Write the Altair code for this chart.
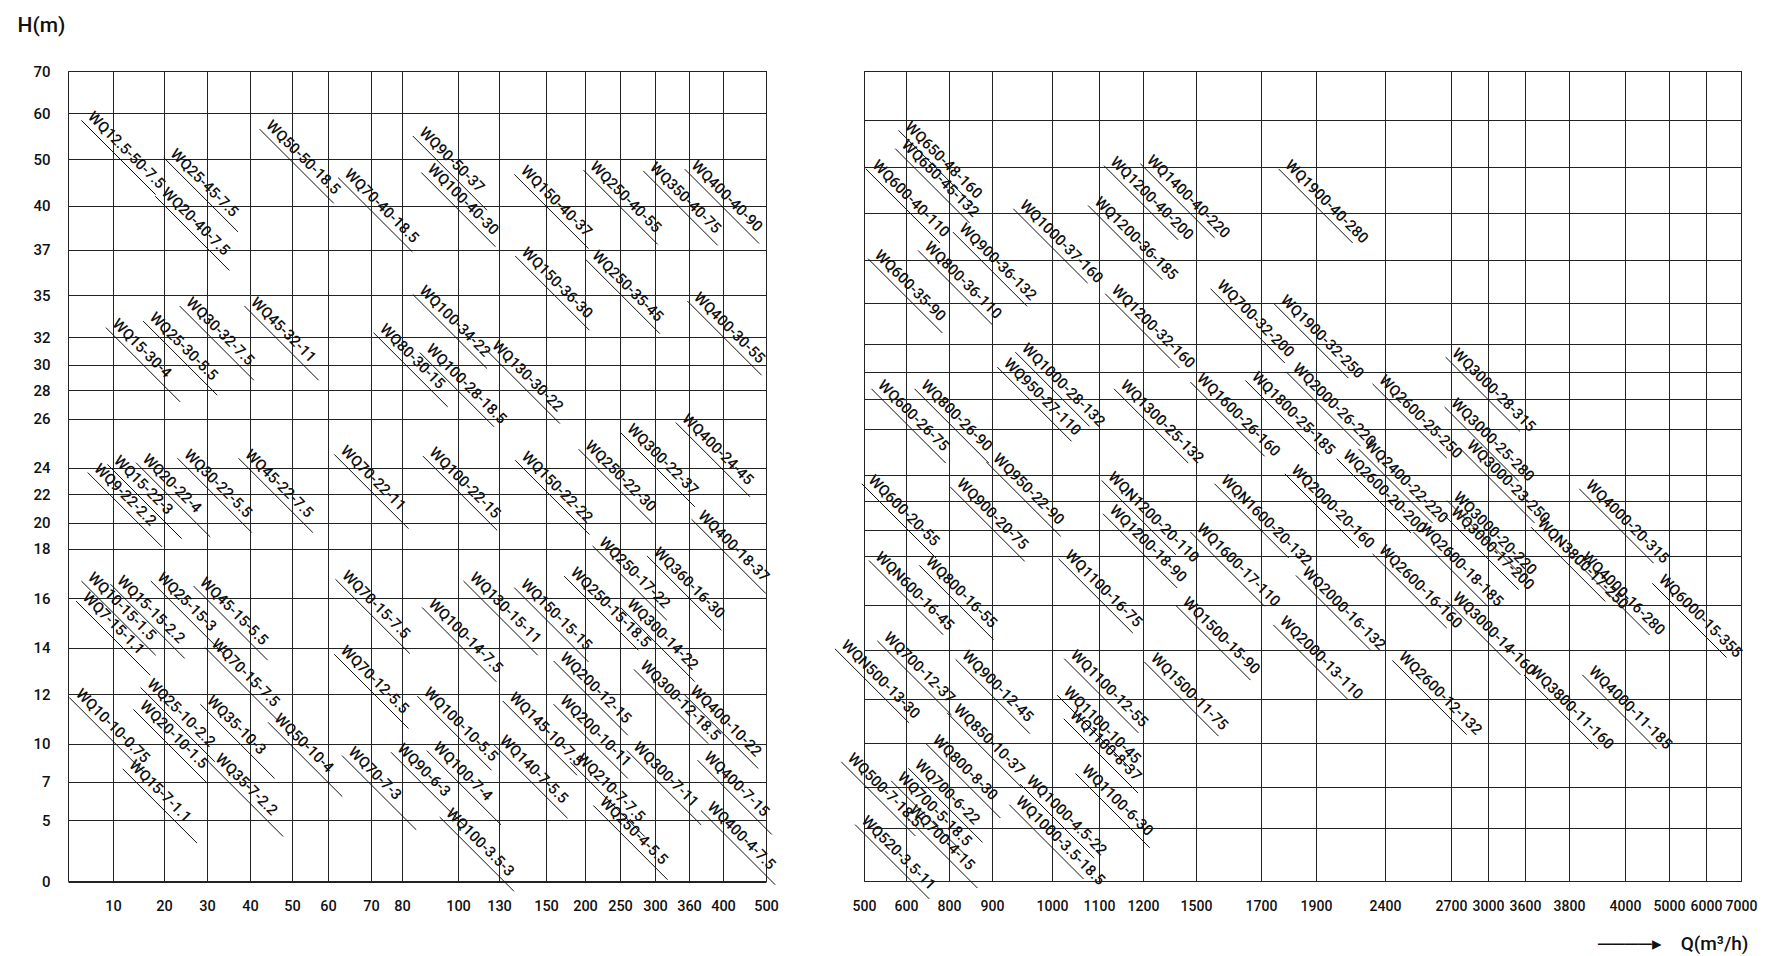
import altair as alt
import pandas as pd

# ---------------- axis tick values ----------------
H_TICKS = [0, 5, 7, 10, 12, 14, 16, 18, 20, 22, 24, 26, 28, 30, 32, 35, 37, 40, 50, 60, 70]
LEFT_Q_TICKS = [10, 20, 30, 40, 50, 60, 70, 80, 100, 130, 150, 200, 250, 300, 360, 400, 500]
RIGHT_Q_TICKS = [500, 600, 800, 900, 1000, 1100, 1200, 1500, 1700, 1900, 2400,
                 2700, 3000, 3600, 3800, 4000, 5000, 6000, 7000]

# ---------------- pump labels, left panel ----------------
left_model = [
    "WQ12.5-50-7.5", "WQ25-45-7.5", "WQ20-40-7.5", "WQ50-50-18.5", "WQ70-40-18.5",
    "WQ90-50-37", "WQ100-40-30", "WQ150-40-37", "WQ250-40-55", "WQ350-40-75",
    "WQ400-40-90", "WQ150-36-30", "WQ250-35-45", "WQ400-30-55", "WQ15-30-4",
    "WQ25-30-5.5", "WQ30-32-7.5", "WQ45-32-11", "WQ100-34-22", "WQ80-30-15",
    "WQ100-28-18.5", "WQ130-30-22", "WQ9-22-2.2", "WQ15-22-3", "WQ20-22-4",
    "WQ30-22-5.5", "WQ45-22-7.5", "WQ70-22-11", "WQ100-22-15", "WQ150-22-22",
    "WQ250-22-30", "WQ300-22-37", "WQ400-24-45", "WQ400-18-37", "WQ250-17-22",
    "WQ360-16-30", "WQ10-15-1.5", "WQ7-15-1.1", "WQ15-15-2.2", "WQ25-15-3",
    "WQ45-15-5.5", "WQ70-15-7.5", "WQ70-15-7.5", "WQ100-14-7.5", "WQ130-15-11",
    "WQ150-15-15", "WQ250-15-18.5", "WQ300-14-22", "WQ200-12-15", "WQ70-12-5.5",
    "WQ300-12-18.5", "WQ400-10-22", "WQ10-10-0.75", "WQ15-7-1.1", "WQ25-10-2.2",
    "WQ20-10-1.5", "WQ35-10-3", "WQ35-7-2.2", "WQ50-10-4", "WQ70-7-3",
    "WQ90-6-3", "WQ100-7-4", "WQ100-10-5.5", "WQ100-3.5-3", "WQ140-7-5.5",
    "WQ145-10-7.5", "WQ200-10-11", "WQ210-7-7.5", "WQ250-4-5.5", "WQ300-7-11",
    "WQ400-7-15", "WQ400-4-7.5",
]
left_q = [
    5.8, 22.9, 20.9, 45.3, 65.3,
    88.4, 91.4, 141.9, 216, 302,
    370, 142.3, 219, 373, 11.1,
    18.4, 26.6, 41.7, 88.4, 74.9,
    90.9, 129.5, 7.2, 11.4, 17.0,
    26.1, 40.3, 64.4, 92, 142.3,
    209, 269, 359, 378, 229,
    308.5, 5.8, 4.6, 12.0, 19.9,
    29.8, 32.5, 64.7, 91.7, 113.3,
    141.9, 189.5, 269, 176, 64.4,
    288, 369, 3.1, 14.4, 17.9,
    16.5, 31.4, 33.4, 47.3, 66.2,
    80.6, 93.4, 90, 98, 133,
    137, 176, 197.6, 230, 278,
    385, 389,
]
left_h = [
    59.0, 50.9, 42.6, 57.1, 46.6,
    55.6, 47.7, 47.3, 48.2, 48.0,
    48.4, 36.85, 36.7, 34.77, 32.87,
    33.34, 34.41, 34.41, 35.15, 32.51,
    31.07, 31.31, 23.83, 24.24, 24.31,
    24.49, 24.49, 24.65, 24.58, 24.41,
    24.86, 25.54, 25.95, 20.42, 18.41,
    17.81, 16.8, 15.99, 16.67, 16.8,
    16.6, 14.11, 16.87, 15.73, 16.8,
    16.53, 17.0, 15.73, 13.54, 13.83,
    13.18, 12.11, 11.97, 8.22, 12.4,
    11.49, 11.7, 8.74, 10.97, 9.27,
    9.53, 9.66, 12.03, 5.3, 10.09,
    11.83, 11.7, 8.74, 5.9, 9.66,
    8.9, 5.64,
]

# ---------------- pump labels, right panel ----------------
right_model = [
    "WQ650-48-160", "WQ650-45-132", "WQ600-40-110", "WQ600-35-90", "WQ800-36-110",
    "WQ900-36-132", "WQ1000-37-160", "WQ1200-40-200", "WQ1400-40-220", "WQ1200-36-185",
    "WQ1900-40-280", "WQ1200-32-160", "WQ700-32-200", "WQ1900-32-250", "WQ3000-28-315",
    "WQ1000-28-132", "WQ950-27-110", "WQ600-26-75", "WQ800-26-90", "WQ950-22-90",
    "WQ1300-25-132", "WQ1600-26-160", "WQ1800-25-185", "WQ2000-26-220", "WQ2400-22-220",
    "WQ2600-25-250", "WQ3000-25-280", "WQ3000-23-250", "WQ600-20-55", "WQ900-20-75",
    "WQN1200-20-110", "WQ1200-18-90", "WQN1600-20-132", "WQ1600-17-110", "WQ2000-20-160",
    "WQ2600-20-200", "WQ2600-18-185", "WQ3000-20-220", "WQ3000-17-200", "WQN3800-17-250",
    "WQ4000-20-315", "WQ4000-16-280", "WQ6000-15-355", "WQ4000-11-185", "WQ3800-11-160",
    "WQN600-16-45", "WQ800-16-55", "WQ1100-16-75", "WQ1500-15-90", "WQ2000-16-132",
    "WQ2000-13-110", "WQ2600-16-160", "WQ2600-12-132", "WQ3000-14-160", "WQN500-13-30",
    "WQ700-12-37", "WQ900-12-45", "WQ1100-12-55", "WQ1500-11-75", "WQ850-10-37",
    "WQ1100-10-45", "WQ1100-8-37", "WQ800-8-30", "WQ700-6-22", "WQ700-5-18.5",
    "WQ700-4-15", "WQ500-7-18.5", "WQ520-3.5-11", "WQ1000-4.5-22", "WQ1000-3.5-18.5",
    "WQ1100-6-30",
]
right_q = [
    624, 609, 534.5, 540, 715,
    838.6, 956.7, 1140, 1257, 1104,
    1810, 1143, 1584, 1794, 2760,
    960, 930, 548, 699, 912,
    1163, 1522, 1691, 1838, 2299,
    2401, 2751, 2879, 525, 833,
    1135, 1138, 1596, 1522, 1833,
    2142, 2587, 2771, 2751, 3685,
    3882, 3868, 4909, 3893, 3653,
    542, 721, 1041, 1460, 1873,
    1791, 2401, 2491, 2765, 461,
    562, 845, 1053, 1279, 825,
    1038, 1052, 753, 670, 595,
    646, 476, 509, 968, 950,
    1077,
]
right_h = [
    58.4, 54.5, 50.2, 37.26, 37.79,
    38.96, 41.52, 50.9, 51.3, 42.24,
    50.2, 35.56, 35.79, 35.09, 31.26,
    31.62, 30.55, 28.96, 28.96, 24.68,
    28.96, 29.46, 29.58, 30.21, 25.26,
    29.33, 27.65, 25.26, 23.54, 23.28,
    23.79, 21.31, 23.54, 20.05, 24.17,
    24.83, 20.05, 22.25, 21.19, 20.39,
    23.15, 17.92, 17.0, 13.1, 13.1,
    17.93, 17.73, 18.0, 16.08, 17.32,
    15.24, 18.38, 13.69, 16.29, 14.18,
    14.53, 13.73, 13.76, 13.63, 11.5,
    12.27, 11.23, 10.09, 8.47, 7.61,
    5.83, 8.91, 5.3, 7.39, 6.27,
    8.11,
]

# ---------------- layout: grid line placement inside each plot area (px) ----------------
PLOT_H = 810
LEFT_W, RIGHT_W = 698, 877
LEFT_X_RANGE = [0, 45, 96, 139, 182, 224, 260, 303, 334, 390, 431, 478, 517, 552, 587, 621, 655, 698]
LEFT_Y_RANGE = [810.5, 749, 710.5, 672.5, 623, 576.5, 527, 477.5, 451.5, 423, 396.5,
                347.5, 319, 293.5, 266, 224, 178.8, 134.5, 88, 42, 0]
RIGHT_X_RANGE = [0, 42, 85, 128, 188, 235, 279, 332, 397, 452, 521, 587, 624, 661, 705,
                 761, 805, 842, 877]
RIGHT_Y_RANGE = [810, 757, 716, 672, 628, 579, 534, 485, 459, 430, 404, 358, 328, 301,
                 273, 232, 189, 142, 96, 49, 0]

FONT = "Roboto"
INK = "#111111"
GRID = "#222222"
ANGLE = 45
NBSP = "\u00a0"


def panel(models, qs, hs, x_domain, x_range, x_ticks, y_range, width, left_side):
    df = pd.DataFrame({"model": models, "q": qs, "h": hs})
    if left_side:
        y_axis = alt.Axis(values=H_TICKS, grid=True, ticks=False, domain=False,
                          labelFont=FONT, labelFontSize=15, labelFontWeight=500,
                          labelColor=INK, labelPadding=18,
                          gridColor=GRID, gridWidth=1, gridOpacity=1,
                          title="H(m)", titleAngle=0, titleAlign="left", titleBaseline="top",
                          titleX=-51, titleY=-57, titleFont=FONT, titleFontSize=21,
                          titleFontWeight=500, titleColor=INK)
        x_axis = alt.Axis(values=x_ticks, grid=True, ticks=False, domain=False, format="d",
                          labelFont=FONT, labelFontSize=14.5, labelFontWeight=500,
                          labelColor=INK, labelPadding=18,
                          labelFlush=False, labelOverlap=False,
                          gridColor=GRID, gridWidth=1, gridOpacity=1, title=None)
    else:
        y_axis = alt.Axis(values=H_TICKS, grid=True, ticks=False, domain=False, labels=False,
                          gridColor=GRID, gridWidth=1, gridOpacity=1, title=None)
        x_axis = alt.Axis(values=x_ticks, grid=True, ticks=False, domain=False, format="d",
                          labelFont=FONT, labelFontSize=14, labelFontWeight=500,
                          labelColor=INK, labelPadding=18,
                          labelFlush=False, labelOverlap=False,
                          gridColor=GRID, gridWidth=1, gridOpacity=1,
                          title="\u2500\u2500\u2500\u2500\u25b8" + NBSP * 4 + "Q(m\u00b3/h)",
                          titleAlign="right", titleBaseline="middle", titleX=width + 7,
                          titleY=62, titleFont=FONT, titleFontSize=19,
                          titleFontWeight=500, titleColor=INK)
    x = alt.X("q:Q", scale=alt.Scale(domain=x_domain, range=x_range, zero=False, nice=False),
              axis=x_axis)
    y = alt.Y("h:Q", scale=alt.Scale(domain=H_TICKS, range=y_range, zero=False, nice=False),
              axis=y_axis)
    base = alt.Chart(df)
    lines = base.mark_point(shape="M0,0L0.7071,0.7071", size=44100, filled=False,
                            color=INK, stroke=INK, strokeWidth=1, opacity=1,
                            xOffset=-12.7, yOffset=2.8).encode(x=x, y=y)
    texts = base.mark_text(align="left", baseline="middle", angle=ANGLE, dx=-5,
                           font=FONT, fontSize=15, fontWeight=500,
                           color=INK).encode(x=x, y=y, text="model:N")
    return alt.layer(lines, texts).properties(width=width, height=PLOT_H)


left = panel(left_model, left_q, left_h, [0] + LEFT_Q_TICKS, LEFT_X_RANGE, LEFT_Q_TICKS,
             LEFT_Y_RANGE, LEFT_W, True)
right = panel(right_model, right_q, right_h, RIGHT_Q_TICKS, RIGHT_X_RANGE, RIGHT_Q_TICKS,
              RIGHT_Y_RANGE, RIGHT_W, False)

chart = (
    alt.hconcat(left, right, spacing=98, bounds="flush")
    .properties(padding={"left": 8, "top": 5, "right": 8, "bottom": 4}, background="white")
    .configure_view(stroke=GRID, strokeWidth=1)
)

chart.save("out.html", embed_options={"renderer": "svg", "actions": False})
